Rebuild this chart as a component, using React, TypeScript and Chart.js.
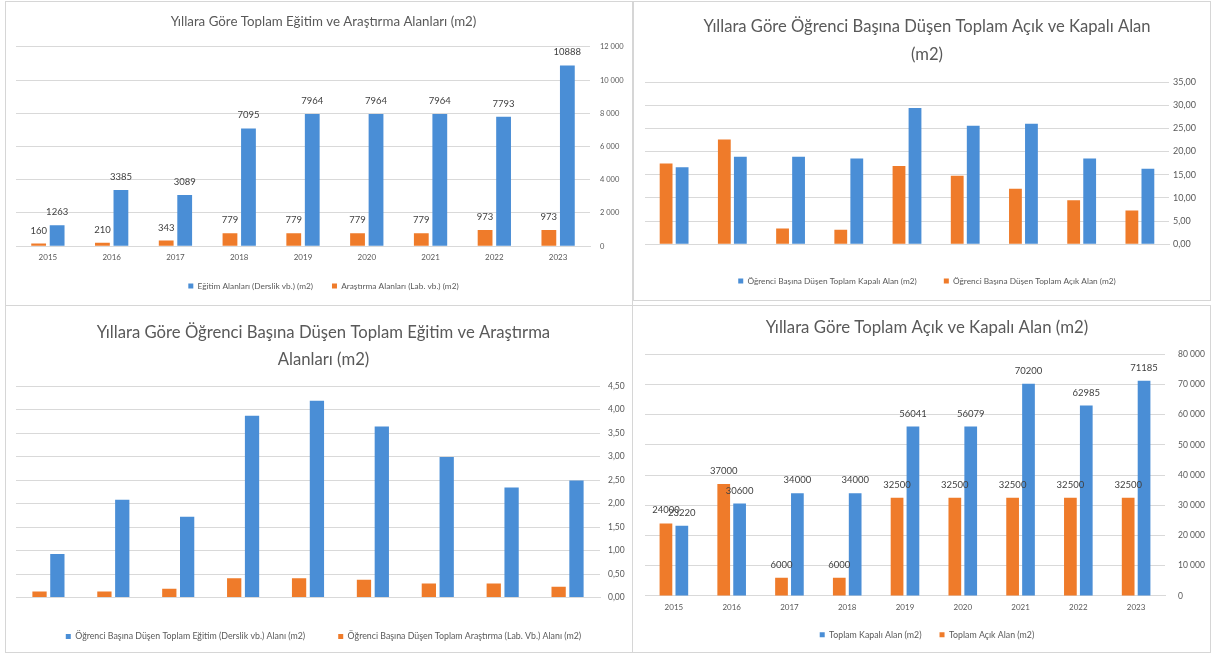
import React, { useEffect, useRef } from "react";
import { Chart, registerables } from "chart.js";

Chart.register(...registerables);

const years = ["2015", "2016", "2017", "2018", "2019", "2020", "2021", "2022", "2023"];

// Chart 1: Yıllara Göre Toplam Eğitim ve Araştırma Alanları (m2)
const egitimAlanlari = [1263, 3385, 3089, 7095, 7964, 7964, 7964, 7793, 10888];
const arastirmaAlanlari = [160, 210, 343, 779, 779, 779, 779, 973, 973];

// Chart 2: Öğrenci başına açık / kapalı alan
const ogrKapaliAlan = [16.6, 18.9, 18.9, 18.5, 29.4, 25.6, 26.0, 18.5, 16.3];
const ogrAcikAlan = [17.4, 22.6, 3.4, 3.1, 16.9, 14.8, 12.0, 9.5, 7.3];

// Chart 3: Öğrenci başına eğitim / araştırma alanı
const ogrEgitimAlani = [0.93, 2.08, 1.72, 3.87, 4.19, 3.64, 2.99, 2.34, 2.49];
const ogrArastirmaAlani = [0.13, 0.13, 0.19, 0.41, 0.41, 0.38, 0.3, 0.3, 0.23];

// Chart 4: Toplam açık / kapalı alan
const kapaliAlan = [23220, 30600, 34000, 34000, 56041, 56079, 70200, 62985, 71185];
const acikAlan = [24000, 37000, 6000, 6000, 32500, 32500, 32500, 32500, 32500];

const BLUE = "#4a8ed6";
const ORANGE = "#ef7b2a";
const GRID = "#d9d9d9";
const TEXT = "#595959";
const FONT = "Lato, 'Open Sans', sans-serif";

const spaceThousands = (v: number) => {
  const s = String(Math.round(v));
  return s.replace(/\B(?=(\d{3})+(?!\d))/g, " ");
};
const commaDec = (v: number) => v.toFixed(2).replace(".", ",");

const valueLabels = {
  id: "valueLabels",
  afterDatasetsDraw(chart: any, _args: any, opts: any) {
    if (!opts || !opts.display) return;
    const ctx = chart.ctx;
    ctx.save();
    ctx.font = `${opts.size}px ${FONT}`;
    ctx.fillStyle = opts.color;
    ctx.textAlign = "center";
    ctx.textBaseline = "middle";
    chart.data.datasets.forEach((ds: any, i: number) => {
      const meta = chart.getDatasetMeta(i);
      meta.data.forEach((bar: any, j: number) => {
        ctx.fillText(String(ds.data[j]), bar.x, bar.y - opts.offset);
      });
    });
    ctx.restore();
  },
};

type P = {
  title: string | string[];
  titleSize: number;
  titleLH: number;
  titleTop: number;
  titleBottom: number;
  blueLabel: string;
  orangeLabel: string;
  blue: number[];
  orange: number[];
  max: number;
  step: number;
  fmt: (v: number) => string;
  tickSize: number;
  yWidth: number;
  yPad: number;
  xH: number;
  xPad: number;
  xSize: number;
  legendPad: number;
  legendSize: number;
  pad: { left: number; right: number; top: number; bottom: number };
  dataLabels: boolean;
  catPct: number;
  barPct: number;
};

function makeConfig(p: P): any {
  return {
    type: "bar",
    data: {
      labels: years,
      datasets: [
        { label: p.orangeLabel, data: p.orange, backgroundColor: ORANGE, categoryPercentage: p.catPct, barPercentage: p.barPct },
        { label: p.blueLabel, data: p.blue, backgroundColor: BLUE, categoryPercentage: p.catPct, barPercentage: p.barPct },
      ],
    },
    options: {
      responsive: false,
      animation: false,
      layout: { padding: p.pad },
      plugins: {
        title: {
          display: true,
          text: p.title,
          color: TEXT,
          font: { family: FONT, size: p.titleSize, weight: "normal", lineHeight: p.titleLH },
          padding: { top: p.titleTop, bottom: p.titleBottom },
        },
        legend: {
          position: "bottom",
          reverse: true,
          labels: {
            color: TEXT,
            boxWidth: 5,
            boxHeight: 5,
            padding: p.legendPad,
            font: { family: FONT, size: p.legendSize },
          },
        },
        tooltip: { enabled: false },
        valueLabels: { display: p.dataLabels, size: 9.5, color: "#404040", offset: 13 },
      },
      scales: {
        x: {
          grid: { display: false, drawTicks: false },
          border: { display: true, color: GRID },
          ticks: { color: TEXT, padding: p.xPad, font: { family: FONT, size: p.xSize } },
          afterFit: (s: any) => {
            s.height = p.xH;
          },
        },
        y: {
          position: "right",
          min: 0,
          max: p.max,
          grid: { color: GRID, drawTicks: false },
          border: { display: false },
          ticks: {
            stepSize: p.step,
            color: TEXT,
            padding: p.yPad,
            font: { family: FONT, size: p.tickSize },
            callback: (v: any) => p.fmt(Number(v)),
          },
          afterFit: (s: any) => {
            s.width = p.yWidth;
          },
        },
      },
    },
    plugins: [valueLabels],
  };
}

function BarPanel({ cfg, left, top, width, height }: { cfg: P; left: number; top: number; width: number; height: number }) {
  const ref = useRef<HTMLCanvasElement>(null);
  useEffect(() => {
    const chart = new Chart(ref.current as HTMLCanvasElement, makeConfig(cfg));
    return () => chart.destroy();
  }, []);
  return (
    <canvas
      ref={ref}
      width={width}
      height={height}
      style={{ position: "absolute", left, top, width, height }}
    />
  );
}

const c1: P = {
  title: "Yıllara Göre Toplam Eğitim ve Araştırma Alanları (m2)",
  titleSize: 13.3,
  titleLH: 1.2,
  titleTop: 11,
  titleBottom: 17,
  blueLabel: "Eğitim Alanları (Derslik vb.) (m2)",
  orangeLabel: "Araştırma Alanları (Lab. vb.) (m2)",
  blue: egitimAlanlari,
  orange: arastirmaAlanlari,
  max: 12000,
  step: 2000,
  fmt: spaceThousands,
  tickSize: 7.5,
  yWidth: 41,
  yPad: 10,
  xH: 16.75,
  xPad: 6,
  xSize: 8,
  legendPad: 19,
  legendSize: 8.3,
  pad: { left: 9, right: 0, top: 0, bottom: 3.75 },
  dataLabels: true,
  catPct: 0.58,
  barPct: 0.8,
};

const c2: P = {
  title: ["Yıllara Göre Öğrenci Başına Düşen Toplam Açık ve Kapalı Alan", "(m2)"],
  titleSize: 16.6,
  titleLH: 1.69,
  titleTop: 10,
  titleBottom: 13,
  blueLabel: "Öğrenci Başına Düşen Toplam Kapalı Alan (m2)",
  orangeLabel: "Öğrenci Başına Düşen Toplam Açık Alan (m2)",
  blue: ogrKapaliAlan,
  orange: ogrAcikAlan,
  max: 35,
  step: 5,
  fmt: commaDec,
  tickSize: 9,
  yWidth: 40,
  yPad: 4,
  xH: 5.75,
  xPad: 6,
  xSize: 8,
  legendPad: 27,
  legendSize: 8.3,
  pad: { left: 10, right: 0, top: 0, bottom: 3.75 },
  dataLabels: false,
  catPct: 0.55,
  barPct: 0.8,
};

const c3: P = {
  title: ["Yıllara Göre Öğrenci Başına Düşen Toplam Eğitim ve Araştırma", "Alanları (m2)"],
  titleSize: 16.7,
  titleLH: 1.62,
  titleTop: 13.5,
  titleBottom: 12.5,
  blueLabel: "Öğrenci Başına Düşen Toplam Eğitim (Derslik vb.) Alanı (m2)",
  orangeLabel: "Öğrenci Başına Düşen Toplam Araştırma (Lab. Vb.) Alanı (m2)",
  blue: ogrEgitimAlani,
  orange: ogrArastirmaAlani,
  max: 4.5,
  step: 0.5,
  fmt: commaDec,
  tickSize: 8.5,
  yWidth: 31,
  yPad: 8,
  xH: 1.6,
  xPad: 7,
  xSize: 8,
  legendPad: 33,
  legendSize: 8.8,
  pad: { left: 9, right: 0, top: 0, bottom: 0 },
  dataLabels: false,
  catPct: 0.55,
  barPct: 0.8,
};

const c4: P = {
  title: "Yıllara Göre Toplam Açık ve Kapalı Alan (m2)",
  titleSize: 16.8,
  titleLH: 1.2,
  titleTop: 12,
  titleBottom: 16,
  blueLabel: "Toplam Kapalı Alan (m2)",
  orangeLabel: "Toplam Açık Alan (m2)",
  blue: kapaliAlan,
  orange: acikAlan,
  max: 80000,
  step: 10000,
  fmt: spaceThousands,
  tickSize: 8.5,
  yWidth: 44,
  yPad: 13,
  xH: 16.5,
  xPad: 7,
  xSize: 8,
  legendPad: 18,
  legendSize: 8.8,
  pad: { left: 11, right: 0, top: 0, bottom: 1.75 },
  dataLabels: true,
  catPct: 0.55,
  barPct: 0.8,
};

const box = (left: number, top: number, right: number, bottom: number): React.CSSProperties => ({
  position: "absolute",
  left,
  top,
  width: right - left,
  height: bottom - top,
  border: "1px solid #d6d6d6",
  boxSizing: "border-box",
});

export default function App() {
  return (
    <div
      style={{
        position: "fixed",
        left: 0,
        top: 0,
        width: 1213,
        height: 656,
        background: "#ffffff",
        overflow: "hidden",
      }}
    >
      <div style={box(5, 1, 633, 306)} />
      <div style={box(633, 1, 1211, 301)} />
      <div style={box(5, 305, 633, 653)} />
      <div style={box(632, 305, 1211, 653)} />
      <BarPanel cfg={c1} left={7} top={3} width={624} height={301} />
      <BarPanel cfg={c2} left={635} top={3} width={574} height={296} />
      <BarPanel cfg={c3} left={7} top={306} width={624} height={345} />
      <BarPanel cfg={c4} left={634} top={306} width={575} height={345} />
    </div>
  );
}
